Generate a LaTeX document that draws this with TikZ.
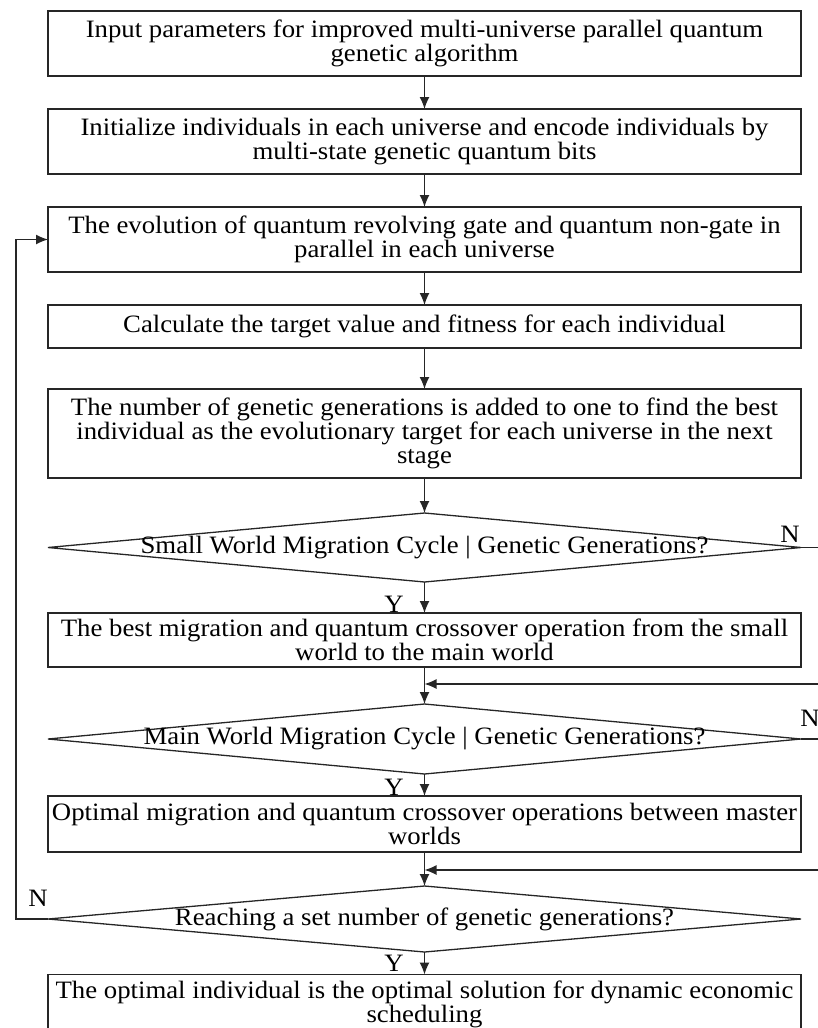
\documentclass[tikz,border=0pt]{standalone}
\usepackage{fontspec}
\setmainfont{Liberation Serif}[FakeStretch=1.07]
\usetikzlibrary{shapes.geometric,arrows.meta}
\begin{document}
\begin{tikzpicture}[x=1pt,y=1pt,
  every node/.style={font=\fontsize{25}{24}\selectfont, inner sep=0pt, outer sep=0pt},
  procbox/.style={draw=black!85, line width=1.3pt, minimum width=753pt, align=center},
  decbox/.style={draw=black!85, line width=1.3pt, diamond, aspect=1, minimum width=753pt},
  conn/.style={draw=black!85, line width=1.3pt, -{Latex[length=12pt,width=10pt]}},
  plainline/.style={draw=black!85, line width=1.3pt},
  lbl/.style={text=black}
]
\clip (0,0) rectangle (818,-1028);
% process boxes
\node[procbox, minimum height=65pt] (b1) at (424.5,-43.5) {Input parameters for improved multi-universe parallel quantum\\genetic algorithm};
\node[procbox, minimum height=65pt] (b2) at (424.5,-141.5) {Initialize individuals in each universe and encode individuals by\\multi-state genetic quantum bits};
\node[procbox, minimum height=65pt] (b3) at (424.5,-239.5) {The evolution of quantum revolving gate and quantum non-gate in\\parallel in each universe};
\node[procbox, minimum height=43pt] (b4) at (424.5,-326.5) {Calculate the target value and fitness for each individual};
\node[procbox, minimum height=89pt] (b5) at (424.5,-433.5) {The number of genetic generations is added to one to find the best\\individual as the evolutionary target for each universe in the next\\stage};
% decision 1
\node[decbox, minimum height=69pt] (d1) at (424.5,-547.5) {};
\node (t1) at (d1.center) {Small World Migration Cycle | Genetic Generations?};
\node[procbox, minimum height=54pt] (b7) at (424.5,-640) {The best migration and quantum crossover operation from the small\\world to the main world};
% decision 2
\node[decbox, minimum height=70pt] (d2) at (424.5,-739) {};
\node (t2) at (d2.center) {Main World Migration Cycle | Genetic Generations?};
\node[procbox, minimum height=56pt] (b9) at (424.5,-824) {Optimal migration and quantum crossover operations between master\\worlds};
% decision 3
\node[decbox, minimum height=66pt] (d3) at (424.5,-919) {};
\node (t3) at (d3.center) {Reaching a set number of genetic generations?};
\node[procbox, minimum height=60pt] (b11) at (424.5,-1004.5) {The optimal individual is the optimal solution for dynamic economic\\scheduling};
% auxiliary coordinates
\coordinate (e1) at (818,-547.5);
\coordinate (e2) at (818,-739);
\coordinate (r1) at (818,-684);
\coordinate (j1) at (424.5,-684);
\coordinate (r2) at (818,-870);
\coordinate (j2) at (424.5,-870);
\coordinate (lp) at (16,-919);
% connectors
\draw[conn] (b1.south) -- (b2.north);
\draw[conn] (b2.south) -- (b3.north);
\draw[conn] (b3.south) -- (b4.north);
\draw[conn] (b4.south) -- (b5.north);
\draw[conn] (b5.south) -- (d1.north);
\draw[conn] (d1.south) -- (b7.north);
\draw[conn] (b7.south) -- (d2.north);
\draw[conn] (r1) -- (j1);
\draw[conn] (d2.south) -- (b9.north);
\draw[conn] (b9.south) -- (d3.north);
\draw[conn] (r2) -- (j2);
\draw[conn] (d3.south) -- (b11.north);
\draw[plainline] (d1.east) -- (e1);
\draw[plainline] (d2.east) -- (e2);
\draw[conn] (d3.west) -- (lp) |- (b3.west);
% labels
\node[lbl] (n1) at (790,-534) {N};
\node[lbl] (n2) at (810,-718) {N};
\node[lbl] (n3) at (38,-898) {N};
\node[lbl] (y1) at (394,-604) {Y};
\node[lbl] (y2) at (394,-787) {Y};
\node[lbl] (y3) at (394,-963) {Y};
\end{tikzpicture}
\end{document}
